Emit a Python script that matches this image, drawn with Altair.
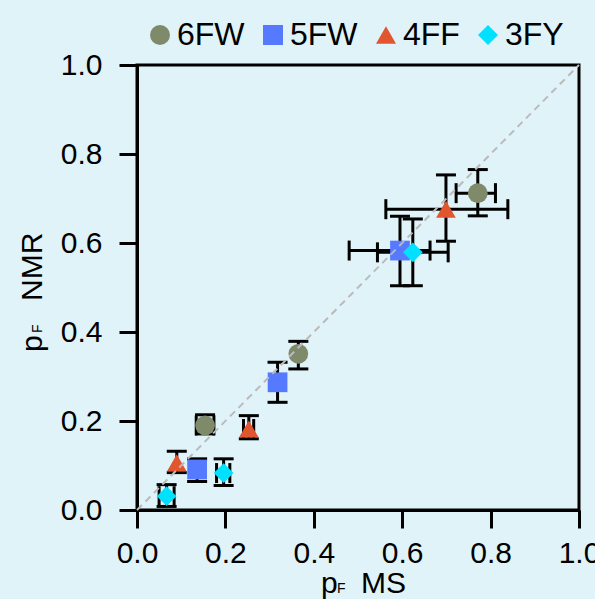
import altair as alt
import pandas as pd

# ---- data ----
series = ["6FW", "6FW", "6FW", "5FW", "5FW", "5FW", "4FF", "4FF", "4FF", "3FY", "3FY", "3FY"]
p_ms = [0.154, 0.365, 0.771, 0.136, 0.318, 0.595, 0.090, 0.253, 0.699, 0.067, 0.196, 0.624]
p_nmr = [0.190, 0.351, 0.712, 0.091, 0.287, 0.583, 0.106, 0.182, 0.676, 0.031, 0.083, 0.579]
ms_lo = [0.134, 0.365, 0.722, 0.136, 0.318, 0.480, 0.090, 0.241, 0.563, 0.050, 0.180, 0.544]
ms_hi = [0.174, 0.365, 0.811, 0.136, 0.318, 0.663, 0.090, 0.264, 0.839, 0.084, 0.210, 0.704]
nmr_lo = [0.171, 0.317, 0.661, 0.064, 0.242, 0.504, 0.084, 0.160, 0.604, 0.008, 0.055, 0.504]
nmr_hi = [0.214, 0.379, 0.765, 0.115, 0.332, 0.660, 0.132, 0.212, 0.753, 0.057, 0.115, 0.654]

series_order = ["6FW", "5FW", "4FF", "3FY"]
series_colors = ["#7f8a6b", "#557aff", "#e2562f", "#00e1ff"]
series_shapes = ["circle", "square", "triangle-up", "diamond"]

diag_x = [0.0, 1.0]
diag_y = [0.0, 1.0]
ticks = [0.0, 0.2, 0.4, 0.6, 0.8, 1.0]

df = pd.DataFrame({
    "series": series, "ms": p_ms, "nmr": p_nmr,
    "ms_lo": ms_lo, "ms_hi": ms_hi, "nmr_lo": nmr_lo, "nmr_hi": nmr_hi,
})
diag = pd.DataFrame({"x": diag_x, "y": diag_y})

FONT = "Liberation Sans"
xscale = alt.Scale(domain=[0, 1], nice=False, zero=False)
yscale = alt.Scale(domain=[0, 1], nice=False, zero=False)
xaxis = alt.Axis(values=ticks, format=".1f", title=None, labelPadding=10, labelFlush=False)
yaxis = alt.Axis(values=ticks, format=".1f", title=None, labelPadding=17, labelFlush=False)

base = alt.Chart(df)

# y error bars
y_whisk = base.mark_rule(color="black", strokeWidth=3, opacity=1).encode(
    x=alt.X("ms:Q", scale=xscale, axis=xaxis),
    y=alt.Y("nmr_lo:Q", scale=yscale, axis=yaxis),
    y2="nmr_hi:Q",
)
y_cap_lo = base.mark_tick(color="black", orient="horizontal", size=20, thickness=3, opacity=1).encode(
    x="ms:Q", y="nmr_lo:Q")
y_cap_hi = base.mark_tick(color="black", orient="horizontal", size=20, thickness=3, opacity=1).encode(
    x="ms:Q", y="nmr_hi:Q")

# x error bars (only where present)
xb = base.transform_filter("datum.ms_hi > datum.ms_lo")
x_whisk = xb.mark_rule(color="black", strokeWidth=3, opacity=1).encode(
    x="ms_lo:Q", x2="ms_hi:Q", y="nmr:Q")
x_cap_lo = xb.mark_tick(color="black", orient="vertical", size=20, thickness=3, opacity=1).encode(
    x="ms_lo:Q", y="nmr:Q")
x_cap_hi = xb.mark_tick(color="black", orient="vertical", size=20, thickness=3, opacity=1).encode(
    x="ms_hi:Q", y="nmr:Q")

legend = alt.Legend(
    title=None, orient="none", legendX=7, legendY=-46, direction="horizontal",
    labelFont=FONT, labelFontSize=32, labelColor="black", symbolSize=400,
    symbolStrokeWidth=0, symbolOpacity=1, labelOffset=1, columnPadding=12, padding=0,
)

points = base.mark_point(filled=True, size=390, opacity=1, strokeWidth=0).encode(
    x="ms:Q",
    y="nmr:Q",
    color=alt.Color("series:N", scale=alt.Scale(domain=series_order, range=series_colors),
                    legend=legend),
    shape=alt.Shape("series:N", scale=alt.Scale(domain=series_order, range=series_shapes),
                    legend=legend),
    order=alt.Order("order:Q"),
).transform_calculate(order="indexof(['6FW','5FW','4FF','3FY'], datum.series)")

diag_line = alt.Chart(diag).mark_line(color="#bababa", strokeWidth=2, strokeDash=[7, 5]).encode(
    x="x:Q", y="y:Q")


def label(txt, x, y, size=30, angle=0):
    return alt.Chart(pd.DataFrame({"t": [txt]})).mark_text(
        font=FONT, fontSize=size, align="left", baseline="alphabetic", angle=angle, color="black"
    ).encode(x=alt.value(x), y=alt.value(y), text="t:N")


titles = [
    label("p", 184, 528),
    label("F", 200, 528, size=14),
    label("MS", 224, 528),
    label("p", -95, 287, angle=270),
    label("F", -95, 268, size=14, angle=270),
    label("NMR", -95, 236, angle=270),
]

chart = alt.layer(
    y_whisk, y_cap_lo, y_cap_hi, x_whisk, x_cap_lo, x_cap_hi, points, diag_line, *titles
).properties(
    width=442, height=445,
    autosize=alt.AutoSizeParams(type="none"),
    padding={"left": 137, "top": 65, "right": 16, "bottom": 89},
    background="#e0f3f8",
).configure_view(
    stroke="black", strokeWidth=3, fill="#e0f3f8"
).configure_axis(
    grid=False, domainColor="black", domainWidth=3, tickColor="black", tickWidth=3,
    tickSize=18, labelFont=FONT, labelFontSize=30, labelColor="black",
)

chart.save("out.html", embed_options={"renderer": "svg", "actions": False})
